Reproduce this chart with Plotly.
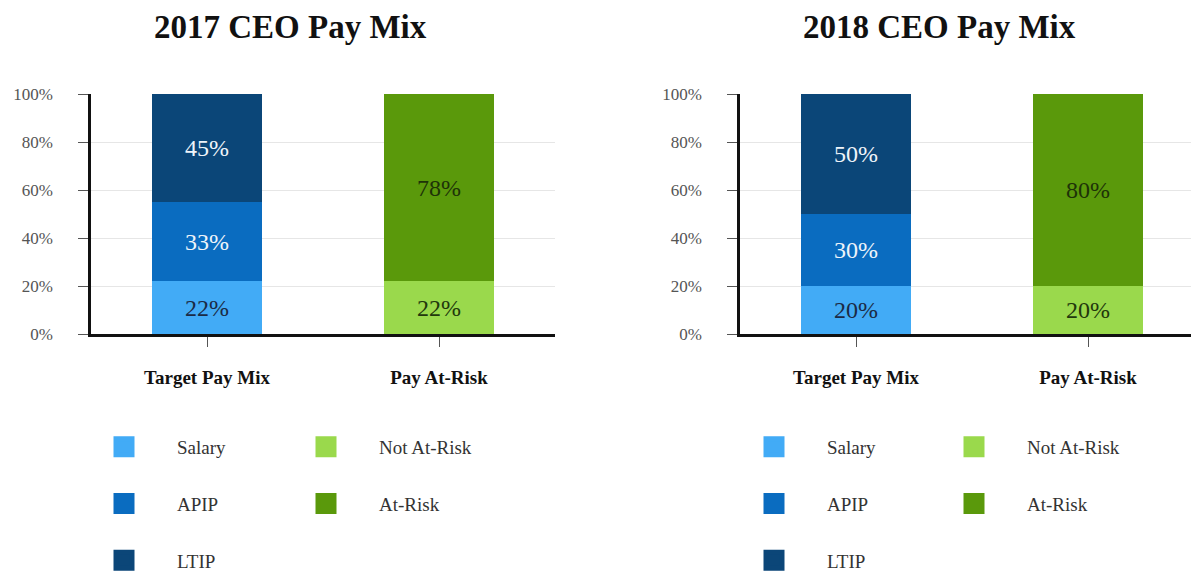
import plotly.graph_objects as go

categories = ["Target Pay Mix", "Pay At-Risk"]
years = ["2017", "2018"]

salary = [22, 20]
apip = [33, 30]
ltip = [45, 50]
not_at_risk = [22, 20]
at_risk = [78, 80]

colors = {
    "Salary": "#42abf6",
    "APIP": "#0a6cc0",
    "LTIP": "#0b4678",
    "Not At-Risk": "#9ad94c",
    "At-Risk": "#5a990b",
}
text_colors = {
    "Salary": "#1b2a45",
    "APIP": "#eef4fa",
    "LTIP": "#eef4fa",
    "Not At-Risk": "#22380c",
    "At-Risk": "#1e3308",
}
serif = "Liberation Serif, Times New Roman, serif"

fig = go.Figure()

for i, yr in enumerate(years):
    xa = "x" if i == 0 else "x2"
    ya = "y" if i == 0 else "y2"
    series = [
        ("Salary", categories[0], salary[i]),
        ("APIP", categories[0], apip[i]),
        ("LTIP", categories[0], ltip[i]),
        ("Not At-Risk", categories[1], not_at_risk[i]),
        ("At-Risk", categories[1], at_risk[i]),
    ]
    for name, cat, val in series:
        fig.add_trace(go.Bar(
            x=[cat], y=[val], name=name, xaxis=xa, yaxis=ya,
            marker=dict(color=colors[name], line=dict(width=0)),
            width=0.474, showlegend=False,
            text=[f"{val}%"], textposition="inside",
            insidetextanchor="middle",
            textfont=dict(family=serif, size=24, color=text_colors[name]),
        ))
    # legend entries (two columns per chart)
    for j, (name, cat, val) in enumerate(series):
        col = 0 if j < 3 else 1
        k = i * 2 + col
        leg = "legend" if k == 0 else "legend" + str(k + 1)
        fig.add_trace(go.Scatter(
            x=[None], y=[None], mode="markers", name=name,
            xaxis=xa, yaxis=ya, legend=leg, legendgroup=name + yr,
            marker=dict(symbol="square", size=16, color=colors[name],
                        line=dict(color=colors[name], width=5)),
        ))

axis_common = dict(
    showline=True, linecolor="#111111", linewidth=2.5,
)
yaxis_common = dict(
    range=[0, 100], tickvals=[0, 20, 40, 60, 80, 100],
    ticktext=["0%", "20%", "40%", "60%", "80%", "100%"],
    ticks="outside", ticklen=10, tickcolor="#555555",
    ticklabelstandoff=22,
    tickfont=dict(family=serif, size=17, color="#555555"),
    showgrid=True, gridcolor="#e6e6e6", gridwidth=1,
    zeroline=False, **axis_common,
)
xaxis_common = dict(
    type="category", categoryorder="array", categoryarray=categories,
    ticks="outside", ticklen=10, tickcolor="#555555",
    ticklabelstandoff=14,
    tickfont=dict(family=serif, size=19, color="#111111", weight="bold"),
    showgrid=False, **axis_common,
)

W, H = 1191, 571
ydom = [1 - 334 / H, 1 - 94 / H]

legend_common = dict(
    bgcolor="rgba(0,0,0,0)", font=dict(family=serif, size=19, color="#333333"),
    tracegroupgap=29, itemwidth=96, xanchor="left", yanchor="top",
    orientation="v", itemclick=False, itemdoubleclick=False,
)
leg_top = 1 - 428 / H

fig.update_layout(
    width=W, height=H,
    margin=dict(l=0, r=0, t=0, b=0, autoexpand=False),
    plot_bgcolor="white", paper_bgcolor="white",
    barmode="stack", bargap=0,
    xaxis=dict(domain=[91 / W, 555 / W], range=[-0.5, 1.5], anchor="y", **xaxis_common),
    yaxis=dict(domain=ydom, anchor="x", **yaxis_common),
    xaxis2=dict(domain=[740 / W, 1.0], range=[-0.5, -0.5 + 451 / 232], anchor="y2", **xaxis_common),
    yaxis2=dict(domain=ydom, anchor="x2", **yaxis_common),
    legend=dict(x=71 / W, y=leg_top, **legend_common),
    legend2=dict(x=273 / W, y=leg_top, **legend_common),
    legend3=dict(x=721 / W, y=leg_top, **legend_common),
    legend4=dict(x=921 / W, y=leg_top, **legend_common),
    annotations=[
        dict(text="<b>2017 CEO Pay Mix</b>", x=290 / W, y=1 - 27 / H, xref="paper", yref="paper",
             xanchor="center", yanchor="middle", showarrow=False,
             font=dict(family=serif, size=33, color="#111111")),
        dict(text="<b>2018 CEO Pay Mix</b>", x=939 / W, y=1 - 27 / H, xref="paper", yref="paper",
             xanchor="center", yanchor="middle", showarrow=False,
             font=dict(family=serif, size=33, color="#111111")),
    ],
)

# drop the default page margin so the figure sits at the window's top-left corner
fig.write_html("out.html", config={"displayModeBar": False},
               post_script="document.body.style.margin = '0';")
